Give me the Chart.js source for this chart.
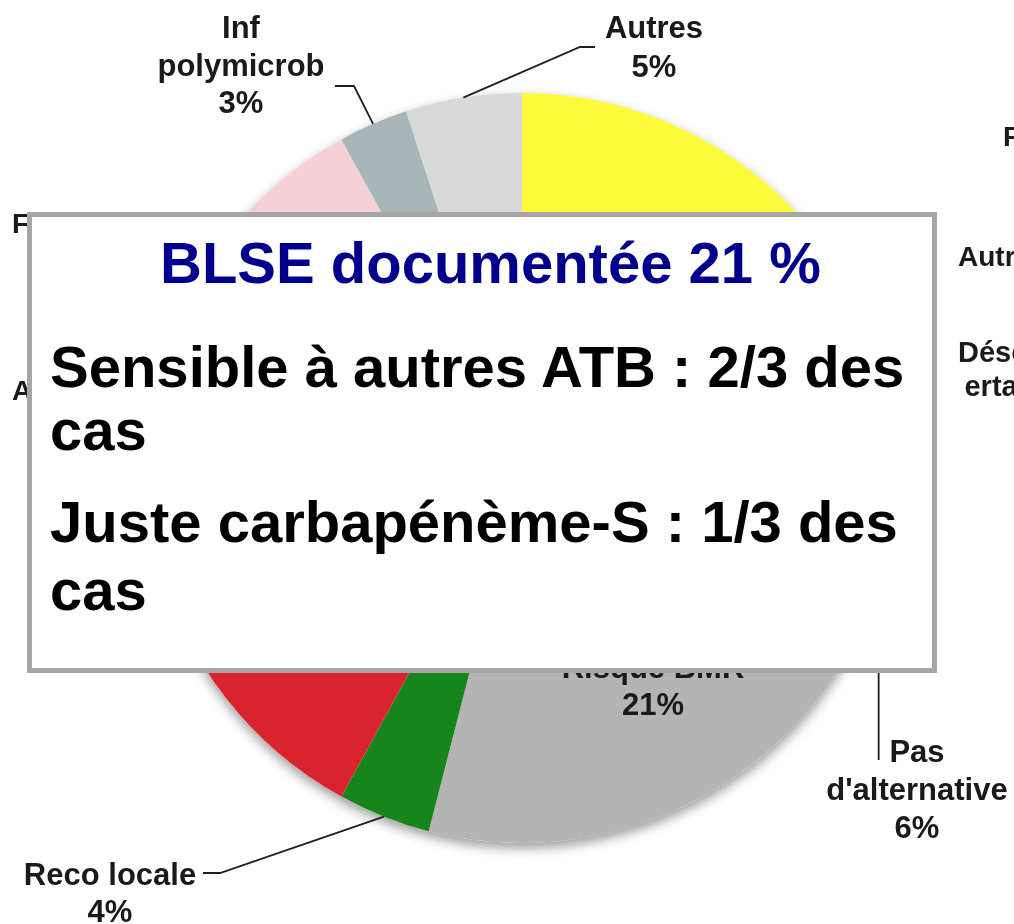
<!DOCTYPE html>
<html>
<head>
<meta charset="utf-8">
<script src="https://cdn.jsdelivr.net/npm/chart.js@4.4.1/dist/chart.umd.min.js"></script>
<style>
  html, body { margin: 0; padding: 0; background: #ffffff; }
  #wrap { position: relative; width: 1014px; height: 924px; overflow: hidden; background: #ffffff; }
  #c { position: absolute; left: 0; top: 0; }
  #box { position: absolute; left: 27px; top: 212px; width: 910px; height: 461px; box-sizing: border-box;
         border: 5px solid #a6a6a6; background: #ffffff; }
  .t { position: absolute; white-space: nowrap; font-family: "Liberation Sans", Arial, sans-serif;
       font-weight: bold; font-size: 58px; line-height: 58px; color: #000000; }
  .title { color: #00008c; }
</style>
</head>
<body>
<div id="wrap">
  <canvas id="c" width="1014" height="924"></canvas>
  <div id="box"></div>
  <div class="t title" style="left:160px; top:234px;">BLSE documentée 21 %</div>
  <div class="t" style="left:50px; top:338px;">Sensible à autres ATB : 2/3 des</div>
  <div class="t" style="left:50px; top:401px;">cas</div>
  <div class="t" style="left:50px; top:493px;">Juste carbapénème-S : 1/3 des</div>
  <div class="t" style="left:50px; top:561px;">cas</div>
</div>
<script>
// ---- data ----
const categories = ["Flore BLSE", "Autre résistance", "Désescalade ertapénème", "Pas d'alternative",
                    "Risque BMR", "Reco locale", "Gravité", "Allergie", "Fragilité",
                    "Inf polymicrob", "Autres"];
const values = [21, 3, 3, 6, 21, 4, 13, 11, 10, 3, 5];
const sliceColors = ["#fbfb3c", "#9dbbd8", "#c3d69b", "#8eb4e3",
                     "#b4b4b4", "#16861c", "#d9232e", "#f2a65a", "#f5d0d5",
                     "#a8b5b8", "#d9d9d9"];

// label layout (text placement only)
const labelLayout = [
  { i: 0, lines: ["Flore BLSE", "%"], leftFirst: 1003, base: 146, size: 28, gap: 34 },
  { i: 1, lines: ["Autre résistance", "%"], leftFirst: 958, base: 266, size: 28, gap: 34 },
  { i: 2, lines: ["Désescalade", "ertapénème", "%"], leftFirst: 958, base: 362, size: 29, gap: 34 },
  { i: 3, lines: ["Pas", "d'alternative", "%"], cx: 917, base: 762, size: 31, gap: 38,
    leader: [[null, 760]] },
  { i: 4, lines: ["Risque BMR", "%"], cx: 653, base: 678, size: 31, gap: 37 },
  { i: 5, lines: ["Reco locale", "%"], cx: 110, base: 885, size: 31, gap: 37,
    leader: [[220, 873], [203, 873]] },
  { i: 6, lines: ["Gravité", "%"], cx: 305, base: 628, size: 31, gap: 37 },
  { i: 7, lines: ["Allergie", "%"], leftFirst: 12, base: 400, size: 28, gap: 34 },
  { i: 8, lines: ["Fragilité", "%"], leftFirst: 12, base: 233, size: 28, gap: 34 },
  { i: 9, lines: ["Inf", "polymicrob", "%"], cx: 241, base: 38, size: 31, gap: 37.5,
    leader: [[354, 86], [335, 86]] },
  { i: 10, lines: ["Autres", "%"], cx: 654, base: 38, size: 31, gap: 38.5,
    leader: [[580, 47], [595, 47]] }
];

const shadowPlugin = {
  id: 'pieShadow',
  beforeDatasetsDraw(chart) {
    const el = chart.getDatasetMeta(0).data[0];
    if (!el) return;
    const p = el.getProps(['x', 'y', 'outerRadius'], true);
    const ctx = chart.ctx;
    ctx.save();
    ctx.shadowColor = 'rgba(0,0,0,0.4)';
    ctx.shadowBlur = 12;
    ctx.shadowOffsetX = 0;
    ctx.shadowOffsetY = 5;
    ctx.fillStyle = '#ffffff';
    ctx.beginPath();
    ctx.arc(p.x, p.y, p.outerRadius, 0, Math.PI * 2);
    ctx.fill();
    ctx.restore();
  }
};

const labelPlugin = {
  id: 'pieLabels',
  afterDatasetsDraw(chart) {
    const ctx = chart.ctx;
    const meta = chart.getDatasetMeta(0);
    ctx.save();
    labelLayout.forEach(L => {
      const el = meta.data[L.i];
      const p = el.getProps(['x', 'y', 'startAngle', 'endAngle', 'outerRadius'], true);
      const mid = (p.startAngle + p.endAngle) / 2;
      const ex = p.x + Math.cos(mid) * p.outerRadius;
      const ey = p.y + Math.sin(mid) * p.outerRadius;
      if (L.leader) {
        ctx.strokeStyle = '#1f1f1f';
        ctx.lineWidth = 1.8;
        ctx.beginPath();
        ctx.moveTo(ex, ey);
        L.leader.forEach(pt => ctx.lineTo(pt[0] === null ? ex : pt[0], pt[1]));
        ctx.stroke();
      }
      ctx.font = 'bold ' + L.size + 'px "Liberation Sans", Arial, sans-serif';
      ctx.fillStyle = '#1a1a1a';
      ctx.textAlign = 'center';
      ctx.textBaseline = 'alphabetic';
      const texts = L.lines.map(t => t === '%' ? values[L.i] + '%' : t);
      let cx = L.cx;
      if (cx === undefined) cx = L.leftFirst + ctx.measureText(texts[0]).width / 2;
      texts.forEach((t, k) => ctx.fillText(t, cx, L.base + k * L.gap));
    });
    ctx.restore();
  }
};

new Chart(document.getElementById('c'), {
  type: 'pie',
  data: {
    labels: categories,
    datasets: [{
      data: values,
      backgroundColor: sliceColors,
      borderWidth: 0
    }]
  },
  options: {
    responsive: false,
    animation: false,
    devicePixelRatio: 1,
    layout: { padding: { left: 147, right: 117, top: 93, bottom: 81 } },
    plugins: { legend: { display: false }, tooltip: { enabled: false } }
  },
  plugins: [shadowPlugin, labelPlugin]
});
</script>
</body>
</html>
